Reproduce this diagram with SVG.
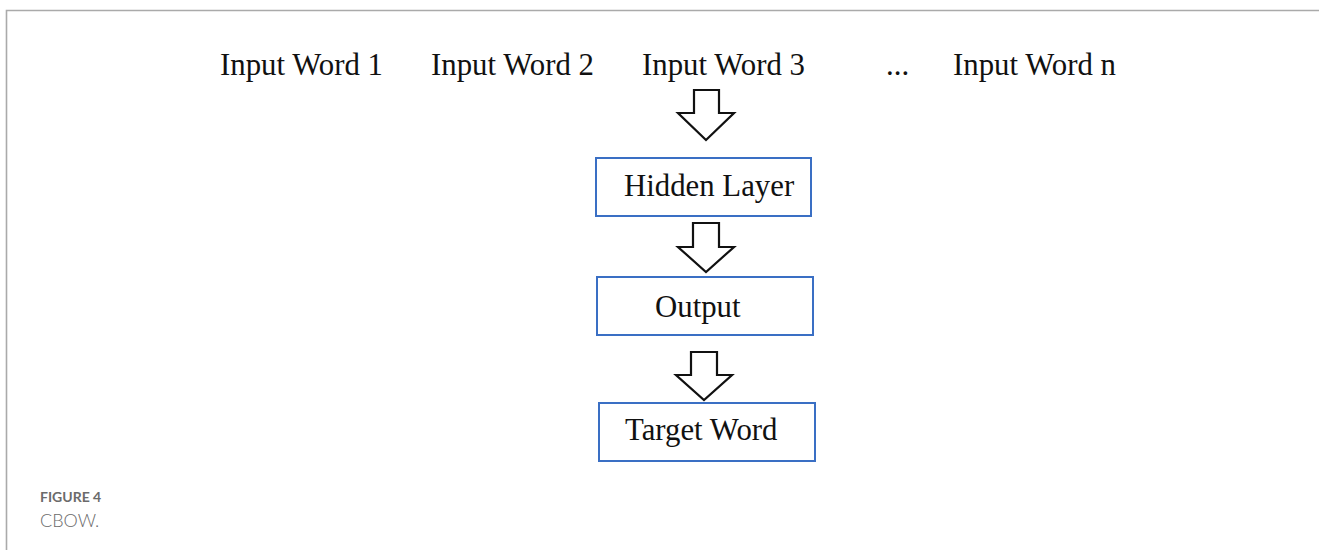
<svg xmlns="http://www.w3.org/2000/svg" width="1319" height="550" viewBox="0 0 1319 550">
<style>
.w{font-family:"Liberation Serif","Times New Roman",serif;font-size:30.8px;fill:#111}
.box{fill:#fff;stroke:#3a6fc4;stroke-width:2}
.arr{fill:#fff;stroke:#111;stroke-width:2.2;stroke-linejoin:miter}
.cap1{font-family:"Lato","Open Sans",sans-serif;font-size:14px;font-weight:bold;fill:#6b6b6b}
.cap2{font-family:"Lato","Open Sans",sans-serif;font-size:18px;font-weight:300;fill:#6b6b6b}
</style>
<rect width="1319" height="550" fill="#fff"/>
<g id="frame" fill="none" stroke="#aaaaaa" stroke-width="1.6">
<path d="M6.5 550 V10.5 H1319"/>
</g>
<g id="inputs">
<text class="w" x="220" y="75">Input Word 1</text>
<text class="w" x="431" y="75">Input Word 2</text>
<text class="w" x="642" y="75">Input Word 3</text>
<text class="w" x="886" y="75">...</text>
<text class="w" x="953" y="75">Input Word n</text>
</g>
<g id="connectors">
<path class="arr" d="M694 90 H719 V113 H734 L706 140 L678 113 H694 Z"/>
<path class="arr" d="M693 223 H719 V247 H734 L706 272 L678 247 H693 Z"/>
<path class="arr" d="M691 352 H717 V375 H732 L704 400 L676 375 H691 Z"/>
</g>
<g id="hidden">
<rect class="box" x="596" y="158" width="215" height="58"/>
<text class="w" x="624" y="196">Hidden Layer</text>
</g>
<g id="output">
<rect class="box" x="597" y="277" width="216" height="58"/>
<text class="w" x="655" y="317">Output</text>
</g>
<g id="target">
<rect class="box" x="599" y="403" width="216" height="58"/>
<text class="w" x="625" y="440">Target Word</text>
</g>
<g id="caption">
<text class="cap1" x="40" y="502">FIGURE 4</text>
<text class="cap2" x="40" y="527">CBOW.</text>
</g>
</svg>
